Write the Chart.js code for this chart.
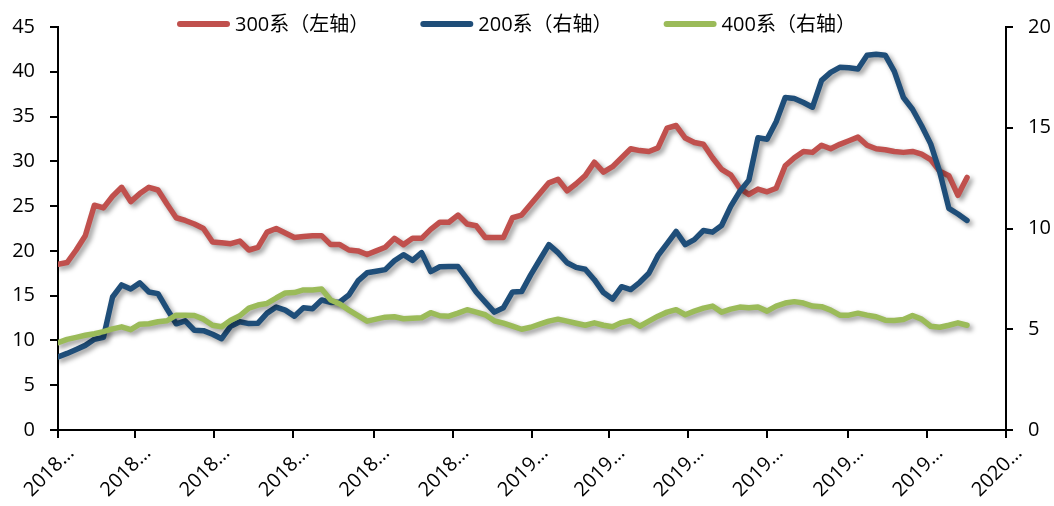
<!DOCTYPE html>
<html>
<head>
<meta charset="utf-8">
<script src="https://cdn.jsdelivr.net/npm/chart.js@4/dist/chart.umd.min.js"></script>
<style>
  html, body { margin: 0; padding: 0; background: #ffffff; }
  #wrap { width: 1054px; height: 506px; }
</style>
</head>
<body>
<div id="wrap"><canvas id="chart" width="1054" height="506"></canvas></div>
<script>
// Weekly series, first week starting 2018-01-01
const seriesNames = ['300系（左轴）', '200系（右轴）', '400系（右轴）'];
const firstWeek = '2018-01-01';

const s300 = [
  18.5, 18.7, 20.1, 21.7, 25.1, 24.8, 26.1, 27.1, 25.5, 26.4,
  27.1, 26.8, 25.2, 23.7, 23.4, 23.0, 22.5, 21.0, 20.9, 20.8,
  21.1, 20.1, 20.4, 22.1, 22.5, 22.0, 21.5, 21.6, 21.7, 21.7,
  20.7, 20.7, 20.1, 20.0, 19.6, 20.0, 20.4, 21.4, 20.7, 21.4,
  21.4, 22.4, 23.2, 23.2, 24.0, 23.0, 22.8, 21.5, 21.5, 21.5,
  23.7, 24.0, 25.2, 26.4, 27.6, 28.0, 26.7, 27.5, 28.4, 29.9,
  28.8, 29.4, 30.4, 31.4, 31.2, 31.1, 31.5, 33.7, 34.0, 32.6,
  32.1, 31.9, 30.4, 29.1, 28.5, 27.0, 26.3, 26.9, 26.6, 27.0,
  29.5, 30.4, 31.1, 31.0, 31.8, 31.4, 31.9, 32.3, 32.7, 31.8,
  31.4, 31.3, 31.1, 31.0, 31.1, 30.8, 30.2, 28.9, 28.4, 26.2,
  28.2
];

const s200 = [
  3.63, 3.8, 4.0, 4.2, 4.5, 4.6, 6.6, 7.2, 7.0, 7.3,
  6.85, 6.77, 6.0, 5.27, 5.42, 4.95, 4.93, 4.75, 4.53, 5.15,
  5.37, 5.28, 5.3, 5.8, 6.1, 5.95, 5.65, 6.07, 6.02, 6.45,
  6.33, 6.35, 6.7, 7.4, 7.8, 7.88, 7.96, 8.4, 8.7, 8.42,
  8.8, 7.86, 8.1, 8.11, 8.11, 7.5, 6.85, 6.35, 5.85, 6.07,
  6.85, 6.87, 7.7, 8.45, 9.2, 8.8, 8.3, 8.07, 7.98, 7.46,
  6.82, 6.5, 7.11, 6.97, 7.33, 7.78, 8.65, 9.25, 9.85, 9.2,
  9.45, 9.9, 9.82, 10.15, 11.1, 11.84, 12.4, 14.5, 14.43, 15.3,
  16.5, 16.45, 16.25, 16.02, 17.35, 17.75, 18.0, 17.98, 17.92, 18.6,
  18.65, 18.6, 17.8, 16.5, 15.92, 15.1, 14.2, 12.8, 11.0, 10.72,
  10.4
];

const s400 = [
  4.33, 4.5, 4.6, 4.7, 4.78, 4.88, 5.02, 5.12, 4.98, 5.25,
  5.27, 5.37, 5.42, 5.7, 5.7, 5.68, 5.5, 5.2, 5.12, 5.45,
  5.67, 6.05, 6.2, 6.28, 6.55, 6.8, 6.82, 6.95, 6.95, 7.0,
  6.45, 6.25, 5.95, 5.68, 5.4, 5.5, 5.6, 5.62, 5.52, 5.55,
  5.57, 5.82, 5.67, 5.65, 5.8, 5.97, 5.85, 5.72, 5.42, 5.3,
  5.15, 5.0, 5.1, 5.25, 5.4, 5.5, 5.4, 5.3, 5.2, 5.32,
  5.2, 5.12, 5.33, 5.42, 5.15, 5.4, 5.65, 5.85, 5.97, 5.72,
  5.9, 6.05, 6.15, 5.85, 6.0, 6.1, 6.07, 6.1, 5.9, 6.15,
  6.3, 6.37, 6.3, 6.15, 6.12, 5.95, 5.7, 5.7, 5.8, 5.7,
  5.62, 5.45, 5.43, 5.48, 5.68, 5.5, 5.15, 5.1, 5.2, 5.32,
  5.2
];

// Date axis: a tick every two months
const axisDates = [
  '2018-01-01', '2018-03-01', '2018-05-01', '2018-07-01', '2018-09-01', '2018-11-01',
  '2019-01-01', '2019-03-01', '2019-05-01', '2019-07-01', '2019-09-01', '2019-11-01',
  '2020-01-01'
];
const axisLabels = [
  '2018…', '2018…', '2018…', '2018…', '2018…', '2018…',
  '2019…', '2019…', '2019…', '2019…', '2019…', '2019…',
  '2020…'
];

const leftAxis = { min: 0, max: 45, step: 5 };
const rightAxis = { min: 0, max: 20, step: 5 };

const COLORS = ['#C0504D', '#1F4E79', '#9BBB59'];
const FONT_FAMILY = "'Open Sans', 'Noto Sans CJK SC', sans-serif";
const FONT = "20px " + FONT_FAMILY;

const DAY = 86400000;
const origin = Date.parse(firstWeek);
const dayOf = (d) => Math.round((Date.parse(d) - origin) / DAY);

// one entry per week
const weekDays = s300.map((_, i) => i * 7);
const toPoints = (vals) => vals.map((v, i) => ({ x: weekDays[i], y: v }));
const tickDays = axisDates.map(dayOf);

// soft drop shadow under every line
const lineShadow = {
  id: 'lineShadow',
  beforeDatasetDraw(chart) {
    const ctx = chart.ctx;
    ctx.save();
    ctx.shadowColor = 'rgba(0,0,0,0.4)';
    ctx.shadowBlur = 5;
    ctx.shadowOffsetX = 3;
    ctx.shadowOffsetY = 3;
  },
  afterDatasetDraw(chart) {
    chart.ctx.restore();
  }
};

// rotated date labels under the x axis
const dateLabels = {
  id: 'dateLabels',
  afterDraw(chart) {
    const ctx = chart.ctx;
    const xs = chart.scales.x;
    ctx.save();
    ctx.font = FONT;
    ctx.fillStyle = '#000';
    ctx.textAlign = 'right';
    ctx.textBaseline = 'middle';
    tickDays.forEach((d, i) => {
      const px = xs.getPixelForValue(d);
      ctx.save();
      ctx.translate(px + 13, 450);
      ctx.rotate(-Math.PI / 4);
      ctx.fillText(axisLabels[i], 0, 0);
      ctx.restore();
    });
    ctx.restore();
  }
};

// series key across the top
const topKey = {
  id: 'topKey',
  afterDraw(chart) {
    const ctx = chart.ctx;
    ctx.save();
    ctx.font = FONT;
    ctx.textAlign = 'left';
    ctx.textBaseline = 'middle';
    const y = 24;
    let x = 177;
    chart.data.datasets.forEach((ds) => {
      ctx.strokeStyle = ds.borderColor;
      ctx.lineWidth = 6;
      ctx.lineCap = 'round';
      ctx.beginPath();
      ctx.moveTo(x + 3, y);
      ctx.lineTo(x + 50, y);
      ctx.stroke();
      ctx.fillStyle = '#000';
      ctx.fillText(ds.label, x + 58, y + 1);
      x += 58 + ctx.measureText(ds.label).width + 51;
    });
    ctx.restore();
  }
};

Chart.defaults.font.family = FONT_FAMILY;
Chart.defaults.font.size = 20;
Chart.defaults.color = '#000';

const axisStyle = {
  grid: { drawOnChartArea: false, drawTicks: true, color: '#000', lineWidth: 2 },
  border: { display: true, color: '#000', width: 2 }
};

new Chart(document.getElementById('chart'), {
  type: 'line',
  data: {
    datasets: [
      { label: seriesNames[0], data: toPoints(s300), yAxisID: 'yL', borderColor: COLORS[0], order: 3 },
      { label: seriesNames[1], data: toPoints(s200), yAxisID: 'yR', borderColor: COLORS[1], order: 2 },
      { label: seriesNames[2], data: toPoints(s400), yAxisID: 'yR', borderColor: COLORS[2], order: 1 }
    ]
  },
  options: {
    responsive: false,
    animation: false,
    devicePixelRatio: 1,
    layout: { padding: { top: 27, left: 0, right: 0, bottom: 0 } },
    elements: {
      line: { borderWidth: 5.5, tension: 0, borderJoinStyle: 'round', borderCapStyle: 'round', fill: false },
      point: { radius: 0, hoverRadius: 0 }
    },
    plugins: {
      legend: { display: false },
      tooltip: { enabled: false }
    },
    scales: {
      x: {
        type: 'linear',
        min: tickDays[0],
        max: tickDays[tickDays.length - 1],
        afterBuildTicks: (s) => { s.ticks = tickDays.map((v) => ({ value: v })); },
        afterFit: (s) => { s.height = 76; },
        ticks: { display: false },
        grid: { ...axisStyle.grid, tickLength: 8 },
        border: axisStyle.border
      },
      yL: {
        type: 'linear',
        position: 'left',
        min: leftAxis.min,
        max: leftAxis.max,
        ticks: { stepSize: leftAxis.step, padding: 15, font: { size: 20 } },
        afterFit: (s) => { s.width = 58; },
        grid: { ...axisStyle.grid, tickLength: 8 },
        border: axisStyle.border
      },
      yR: {
        type: 'linear',
        position: 'right',
        min: rightAxis.min,
        max: rightAxis.max,
        ticks: { stepSize: rightAxis.step, padding: 15, font: { size: 20 } },
        afterFit: (s) => { s.width = 48; },
        grid: { ...axisStyle.grid, tickLength: 7 },
        border: axisStyle.border
      }
    }
  },
  plugins: [lineShadow, dateLabels, topKey]
});
</script>
</body>
</html>
